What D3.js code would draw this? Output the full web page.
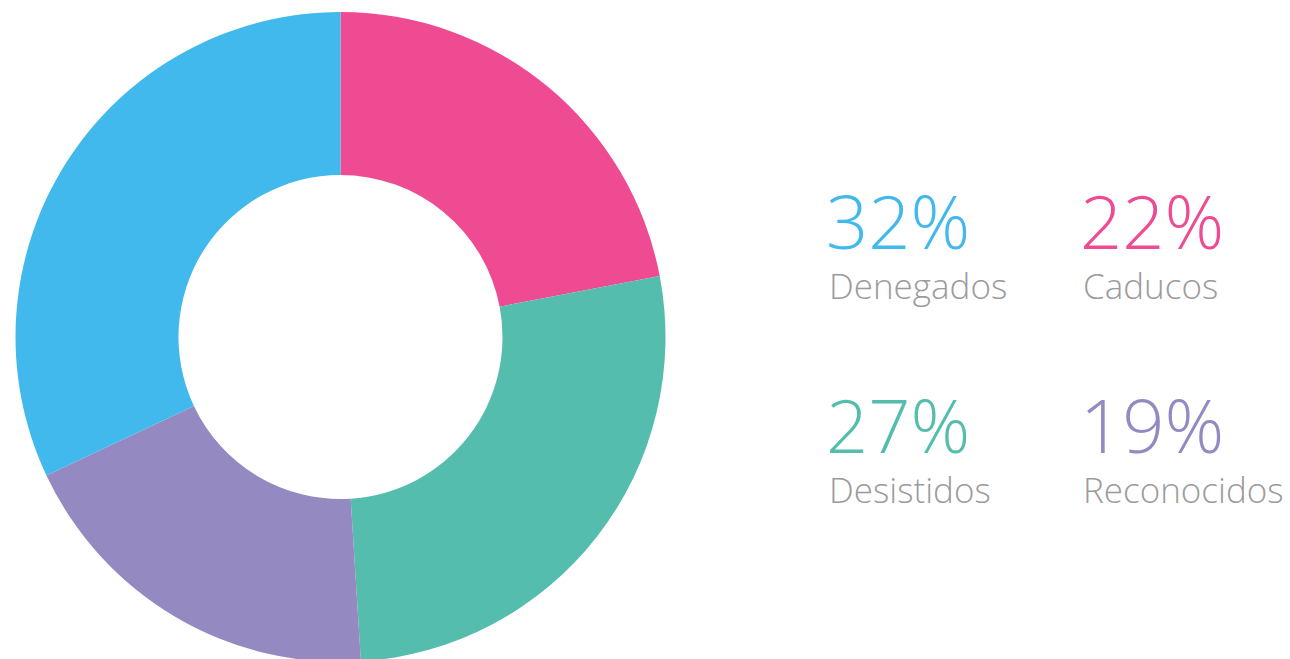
<!DOCTYPE html>
<html>
<head>
<meta charset="utf-8">
<script src="https://cdn.jsdelivr.net/npm/d3@7"></script>
<style>
  html, body { margin: 0; padding: 0; background: #fff; }
  svg { display: block; }
  text { font-family: "Open Sans", "Noto Sans", sans-serif; font-weight: 300; }
</style>
</head>
<body>
<svg id="chart" width="1290" height="659"></svg>
<script>
// Resolution shares by outcome (percent), clockwise from 12 o'clock
const categories = ["Caducos", "Desistidos", "Reconocidos", "Denegados"];
const values = [22, 27, 19, 32];
const colors = ["#EE4B93", "#55BDAD", "#9589C1", "#41B9EC"];

// Legend order: two rows of two
const legendOrder = ["Denegados", "Caducos", "Desistidos", "Reconocidos"];

const svg = d3.select("#chart");
const cx = 340.5, cy = 337, outerR = 325, innerR = 162;

const pie = d3.pie().sort(null).value(d => d.value);
const arc = d3.arc().innerRadius(innerR).outerRadius(outerR);

const data = categories.map((c, i) => ({ name: c, value: values[i], color: colors[i] }));

svg.append("g")
  .attr("transform", `translate(${cx},${cy})`)
  .selectAll("path")
  .data(pie(data))
  .join("path")
  .attr("d", arc)
  .attr("fill", d => d.data.color);

// Legend grid
const colX = d3.scaleOrdinal().domain([0, 1]).range([826, 1080]);
const rowY = d3.scaleOrdinal().domain([0, 1]).range([249, 453]);

const items = legendOrder.map((name, i) => {
  const d = data.find(e => e.name === name);
  return { ...d, col: i % 2, row: Math.floor(i / 2) };
});

const g = svg.append("g").selectAll("g").data(items).join("g")
  .attr("transform", d => `translate(${colX(d.col)},${rowY(d.row)})`);

g.append("text")
  .attr("x", 0).attr("y", 0)
  .attr("font-size", 74)
  .attr("fill", d => d.color)
  .text(d => `${d.value}%`);

g.append("text")
  .attr("x", 3).attr("y", 50)
  .attr("font-size", 35)
  .attr("fill", "#9B9B9B")
  .text(d => d.name);
</script>
</body>
</html>
